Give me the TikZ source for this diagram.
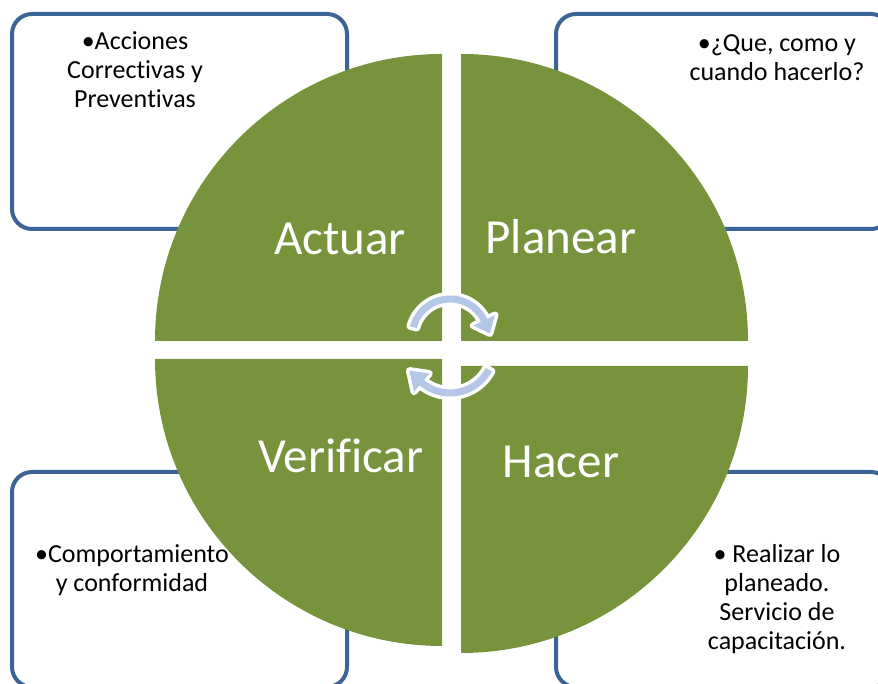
\documentclass[tikz,border=0pt]{standalone}
\usepackage{fontspec}
\setmainfont[Ligatures=NoCommon,RawFeature={-liga;-clig;-calt;-dlig}]{Carlito}
\usetikzlibrary{calc}
\definecolor{olivegreen}{HTML}{77933C}
\definecolor{boxblue}{RGB}{60,99,150}
\definecolor{arrowblue}{HTML}{B4C7E7}
\begin{document}
\begin{tikzpicture}[x=1pt,y=1pt,
  infobox/.style={draw=boxblue, line width=4pt, rounded corners=20pt, fill=white,
    minimum width=335pt, minimum height=215pt, inner sep=0pt},
  quad/.style={fill=olivegreen},
  bigtext/.style={text=white, font=\fontsize{49}{58}\selectfont, inner sep=0pt, anchor=base},
  smalltext/.style={font=\fontsize{26}{29}\selectfont, inner sep=0pt, anchor=base},
  cyc/.style={fill=arrowblue, preaction={draw=white, line width=7pt, line join=round}}
]
\useasboundingbox (0,0) rectangle (878,684);
\clip (0,0) rectangle (878,684);

% boxes
\node[infobox] (boxA) at (179.5,562.5) {};
\node[infobox] (boxP) at (723.5,562.5) {};
\node[infobox] (boxV) at (179.5,104.5) {};
\node[infobox] (boxH) at (723.5,104.5) {};

% quadrants
\fill[quad] (442,343) -- ++(0,287) arc[start angle=90,end angle=180,radius=287] -- cycle;
\fill[quad] (461,343) -- ++(287,0) arc[start angle=0,end angle=90,radius=287] -- cycle;
\fill[quad] (442,325) -- ++(-287,0) arc[start angle=180,end angle=270,radius=287] -- cycle;
\fill[quad] (461,318) -- ++(0,-287) arc[start angle=270,end angle=360,radius=287] -- cycle;

% quadrant labels
\node[bigtext] (actuar) at (340,429) {Actuar};
\node[bigtext] (planear) at (561,430) {Planear};
\node[bigtext] (verificar) at (341,211) {Verificar};
\node[bigtext] (hacer) at (561,206) {Hacer};

% box texts
\node[smalltext] (tA) at (135,634) {\begin{tabular}[t]{@{}c@{}}•Acciones\\Correc\kern0pt tivas y\\Preven\kern0pt tivas\end{tabular}};
\node[smalltext] (tP) at (777,632) {\begin{tabular}[t]{@{}c@{}}•¿Que, como y\\cuando hacerlo?\end{tabular}};
\node[smalltext] (tV) at (132,121) {\begin{tabular}[t]{@{}c@{}}•Comportamiento\\y conformidad\end{tabular}};
\node[smalltext] (tH) at (777,121) {\begin{tabular}[t]{@{}c@{}}• Realizar lo\\planeado.\\Servicio de\\capacitación.\end{tabular}};

% cycle arrows
\coordinate (c1) at (450,347);
\coordinate (c2) at (450,335);
\path[cyc] ($(c1)+(165:41.5)$) arc[start angle=165,end angle=26,radius=41.5]
  -- ($(c1)+(26:50)$) -- ($(c1)+(5:40)$) -- ($(c1)+(26:26)$) -- ($(c1)+(26:34.5)$)
  arc[start angle=26,end angle=165,radius=34.5] -- cycle;
\path[cyc] ($(c2)+(-28:47.5)$) arc[start angle=-28,end angle=-130,radius=47.5]
  -- ($(c2)+(-130:56)$) -- ($(c2)+(-152:46)$) -- ($(c2)+(-130:32)$) -- ($(c2)+(-130:40.5)$)
  arc[start angle=-130,end angle=-28,radius=40.5] -- cycle;
\end{tikzpicture}
\end{document}
